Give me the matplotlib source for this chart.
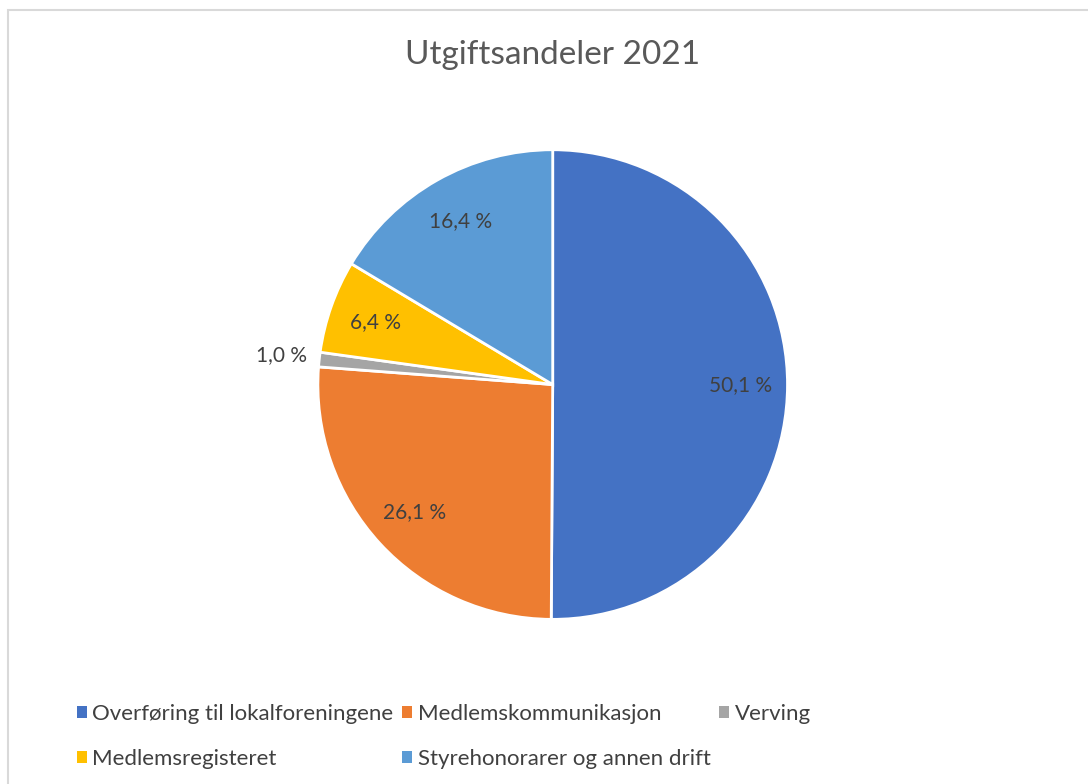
import numpy as np
import matplotlib.pyplot as plt
from matplotlib.patches import Rectangle, Patch

title = "Utgiftsandeler 2021"
categories = [
    "Overføring til lokalforeningene",
    "Medlemskommunikasjon",
    "Verving",
    "Medlemsregisteret",
    "Styrehonorarer og annen drift",
]
shares = [50.1, 26.1, 1.0, 6.4, 16.4]
colors = ["#4472C4", "#ED7D31", "#A5A5A5", "#FFC000", "#5B9BD5"]

plt.rcParams["font.family"] = ["Lato", "DejaVu Sans"]
text_color = "#404040"

fig = plt.figure(figsize=(10.88, 7.84), dpi=100)
fig.patches.append(Rectangle((8 / 1088, -0.05), 1.2, 1 - 10 / 784 + 0.05,
                             transform=fig.transFigure, fill=False,
                             edgecolor="#D9D9D9", linewidth=1.5))

ax = fig.add_axes([0.292, 0.210, 0.432, 0.599])
wedges, texts = ax.pie(
    shares, colors=colors, startangle=90, counterclock=False,
    wedgeprops=dict(edgecolor="white", linewidth=2),
)
ax.set_xlim(-1, 1)
ax.set_ylim(-1, 1)
ax.set_aspect("equal")

# percentage labels, comma decimal like the original
for w, v in zip(wedges, shares):
    ang = np.deg2rad((w.theta1 + w.theta2) / 2)
    r = 1.16 if v < 2 else 0.80
    ax.text(r * np.cos(ang), r * np.sin(ang), f"{v:.1f} %".replace(".", ","),
            ha="center", va="center", fontsize=15, color=text_color)

fig.text(0.508, 0.930, title, ha="center", va="center", fontsize=24,
         color="#595959")

order = [0, 3, 1, 4, 2]
handles = [Patch(facecolor=colors[i]) for i in order]
labels = [categories[i] for i in order]
fig.legend(handles, labels, loc="lower left", bbox_to_anchor=(0.052, -0.006),
           ncol=3, frameon=False, fontsize=16, labelcolor=text_color,
           handlelength=0.45, handleheight=0.45, handletextpad=0.25,
           columnspacing=0.4, labelspacing=1.1)

fig.savefig("out.png", dpi=100, facecolor="white")
